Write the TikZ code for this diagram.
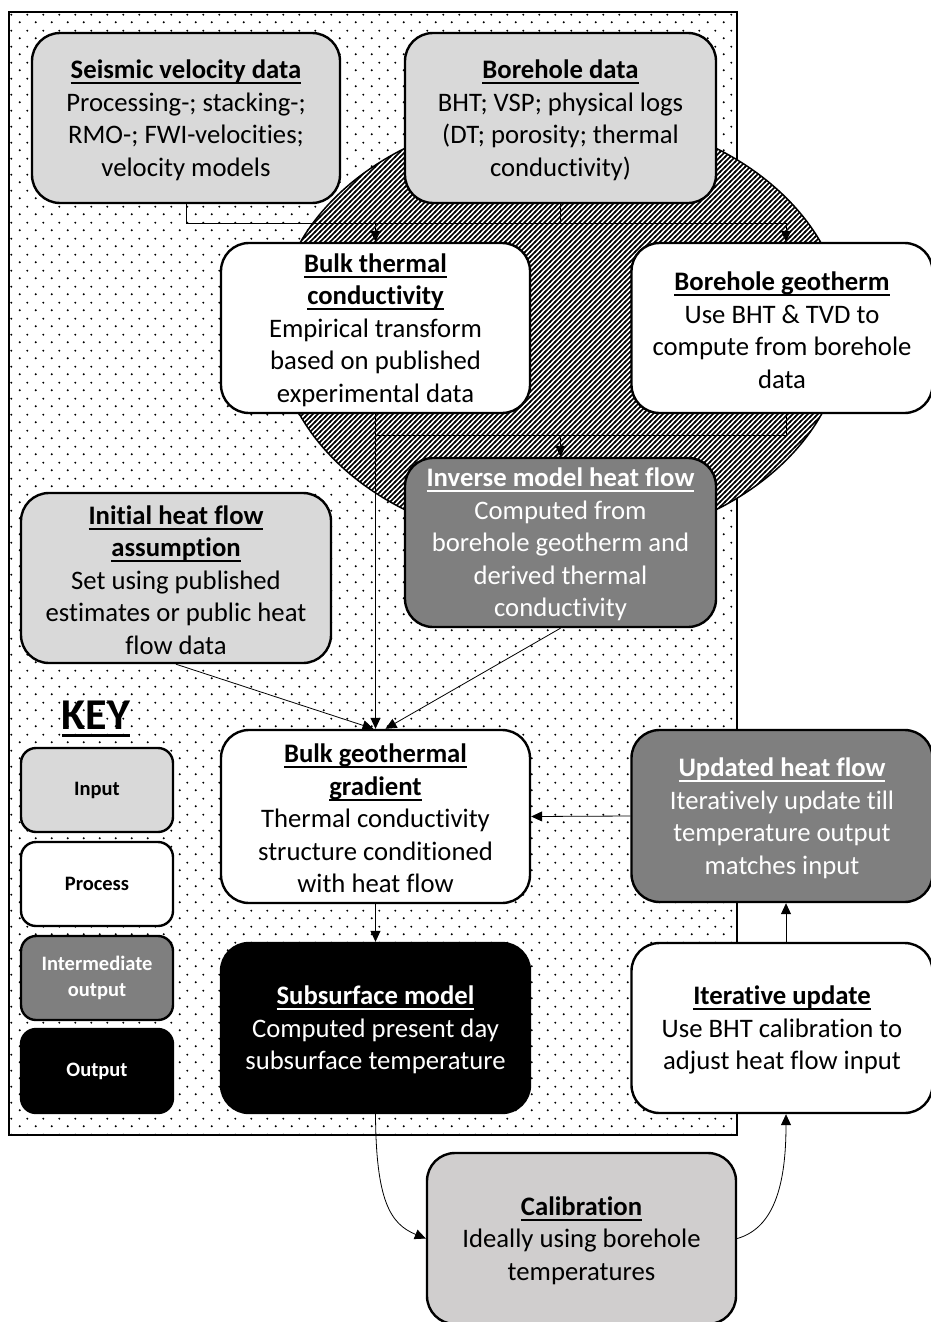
\documentclass[tikz,border=0pt]{standalone}
\usepackage{fontspec}
\setmainfont{Carlito}[Ligatures=NoCommon]
\usetikzlibrary{arrows.meta,patterns}
\definecolor{inputgray}{HTML}{D9D9D9}
\definecolor{calgray}{HTML}{D0CECE}
\definecolor{midgray}{HTML}{7F7F7F}
\newcommand{\diagfont}{\fontsize{26.7}{32.5}\selectfont}
\newcommand{\keyfont}{\fontsize{20.5}{26}\selectfont\bfseries}
\newcommand{\ulinetxt}[3]{\setbox0\hbox{#1}\rlap{\vrule width\wd0 height -#2 depth #3}\box0}
\newcommand{\ttl}[1]{\rule{0pt}{23pt}\textbf{\ulinetxt{#1}{3.3pt}{5.3pt}}}
\pgfdeclarepatternformonly{mydots}{\pgfqpoint{0pt}{0pt}}{\pgfqpoint{16pt}{16pt}}{\pgfqpoint{16pt}{16pt}}{%
  \pgfpathcircle{\pgfqpoint{4pt}{4pt}}{1.15pt}%
  \pgfpathcircle{\pgfqpoint{12pt}{12pt}}{1.15pt}%
  \pgfusepath{fill}}
\pgfdeclarepatternformonly{myhatch}{\pgfqpoint{-1pt}{-1pt}}{\pgfqpoint{6pt}{6pt}}{\pgfqpoint{5pt}{5pt}}{%
  \pgfsetlinewidth{1.6pt}%
  \pgfpathmoveto{\pgfqpoint{-1pt}{-1pt}}\pgfpathlineto{\pgfqpoint{6pt}{6pt}}\pgfusepath{stroke}}
\begin{document}
\begin{tikzpicture}[x=1pt,y=-1pt,
  boxbase/.style={draw=black, line width=2.4pt, rounded corners=28pt, align=center, inner sep=0pt, font=\diagfont, minimum height=170pt},
  inbox/.style={boxbase, fill=inputgray},
  calbox/.style={boxbase, fill=calgray},
  procbox/.style={boxbase, fill=white},
  interbox/.style={boxbase, fill=midgray, text=white},
  outbox/.style={boxbase, fill=black, text=white},
  keybox/.style={draw=black, line width=2.4pt, rounded corners=15pt, minimum width=152pt, minimum height=84pt, inner sep=0pt, align=center, font=\keyfont},
  conn/.style={line width=0.8pt},
  arr/.style={conn, -{Triangle[length=11pt,width=10pt]}}]
\fill[white] (0,0) rectangle (931,1322);
\path[use as bounding box] (0,0) rectangle (931,1322);
% dotted frame
\fill[white] (9,12) rectangle (737,1135);
\fill[pattern=mydots] (9,12) rectangle (737,1135);
\draw[line width=2pt] (9,12) rectangle (737,1135);
% hatched ellipse
\fill[white] (560.5,329) ellipse [x radius=284pt, y radius=216pt];
\draw[line width=1.5pt, pattern=myhatch] (560.5,329) ellipse [x radius=284pt, y radius=216pt];
% boxes
\node[inbox, minimum width=308pt] (seis) at (186,118) {\ttl{Seismic velocity data}\\Processing-; stacking-;\\RMO-; FWI-velocities;\\velocity models};
\node[inbox, minimum width=311pt] (bore) at (560.5,118) {\ttl{Borehole data}\\BHT; VSP; physical logs\\(DT; porosity; thermal\\conductivity)};
\node[procbox, minimum width=309pt] (btc) at (375.5,328) {\ttl{Bulk thermal}\\\ttl{conductivity}\\Empirical transform\\based on published\\experimental data};
\node[procbox, minimum width=301pt] (bgeo) at (782,328) {\ttl{Borehole geotherm}\\Use BHT \& TVD to\\compute from borehole\\data};
\node[interbox, minimum width=311pt, minimum height=169pt] (inv) at (560.5,542.5) {\ttl{Inverse model heat flow}\\Computed from\\borehole geotherm and\\derived thermal\\conductivity};
\node[inbox, minimum width=310pt] (init) at (176,578) {\ttl{Initial heat flow}\\\ttl{assumption}\\Set using published\\estimates or public heat\\flow data};
\node[procbox, minimum width=309pt, minimum height=173pt] (bgg) at (375.5,816.5) {\ttl{Bulk geothermal}\\\ttl{gradient}\\Thermal conductivity\\structure conditioned\\with heat flow};
\node[interbox, minimum width=301pt, minimum height=172pt] (upd) at (782,816) {\ttl{Updated heat flow}\\Iteratively update till\\temperature output\\matches input};
\node[outbox, minimum width=309pt] (sub) at (375.5,1028) {\ttl{Subsurface model}\\Computed present day\\subsurface temperature};
\node[procbox, minimum width=301pt] (iter) at (782,1028) {\ttl{Iterative update}\\Use BHT calibration to\\adjust heat flow input};
\node[calbox, minimum width=309pt, minimum height=171pt] (cal) at (581.5,1238.5) {\ttl{Calibration}\\Ideally using borehole\\temperatures};
% key
\node[font=\fontsize{44}{50}\selectfont\bfseries, inner sep=0pt] (key) at (96,719) {\ulinetxt{KEY}{4pt}{7pt}};
\node[keybox, fill=inputgray] (kin) at (97,790) {Input};
\node[keybox, fill=white] (kpr) at (97,884) {Process};
\node[keybox, fill=midgray, text=white] (kint) at (97,978) {Intermediate\\output};
\node[keybox, fill=black, text=white] (kout) at (97,1071) {Output};
% connectors
\coordinate (h1L) at (186,223);
\coordinate (h1R) at (786,223);
\coordinate (h2L) at (375.5,435);
\coordinate (h2R) at (786,435);
\draw[conn] (seis.south) -- (h1L) -- (h1R);
\draw[conn] (bore.south) -- (bore.south |- h1L);
\draw[arr] (btc.north |- h1L) -- (btc.north);
\draw[arr] (h1R) -- (h1R |- bgeo.north);
\draw[conn] (btc.south) -- (h2L) -- (h2R) -- (h2R |- bgeo.south);
\draw[arr] (inv.north |- h2L) -- (inv.north);
\draw[arr] (btc.south) -- (bgg.north);
\draw[arr] (init.south) -- ([xshift=-2pt]bgg.north);
\draw[arr] (inv.south) -- ([xshift=10pt]bgg.north);
\draw[arr] (upd.west) -- (bgg.east);
\draw[arr] (bgg.south) -- (sub.north);
\draw[arr] ([xshift=4pt]iter.north) -- ([xshift=4pt]upd.south);
\draw[arr] (sub.south) .. controls (376,1200) and (390,1224) .. (cal.west);
\draw[arr] (cal.east) .. controls (774,1228) and (786,1185) .. ([xshift=4pt]iter.south);
\end{tikzpicture}
\end{document}
